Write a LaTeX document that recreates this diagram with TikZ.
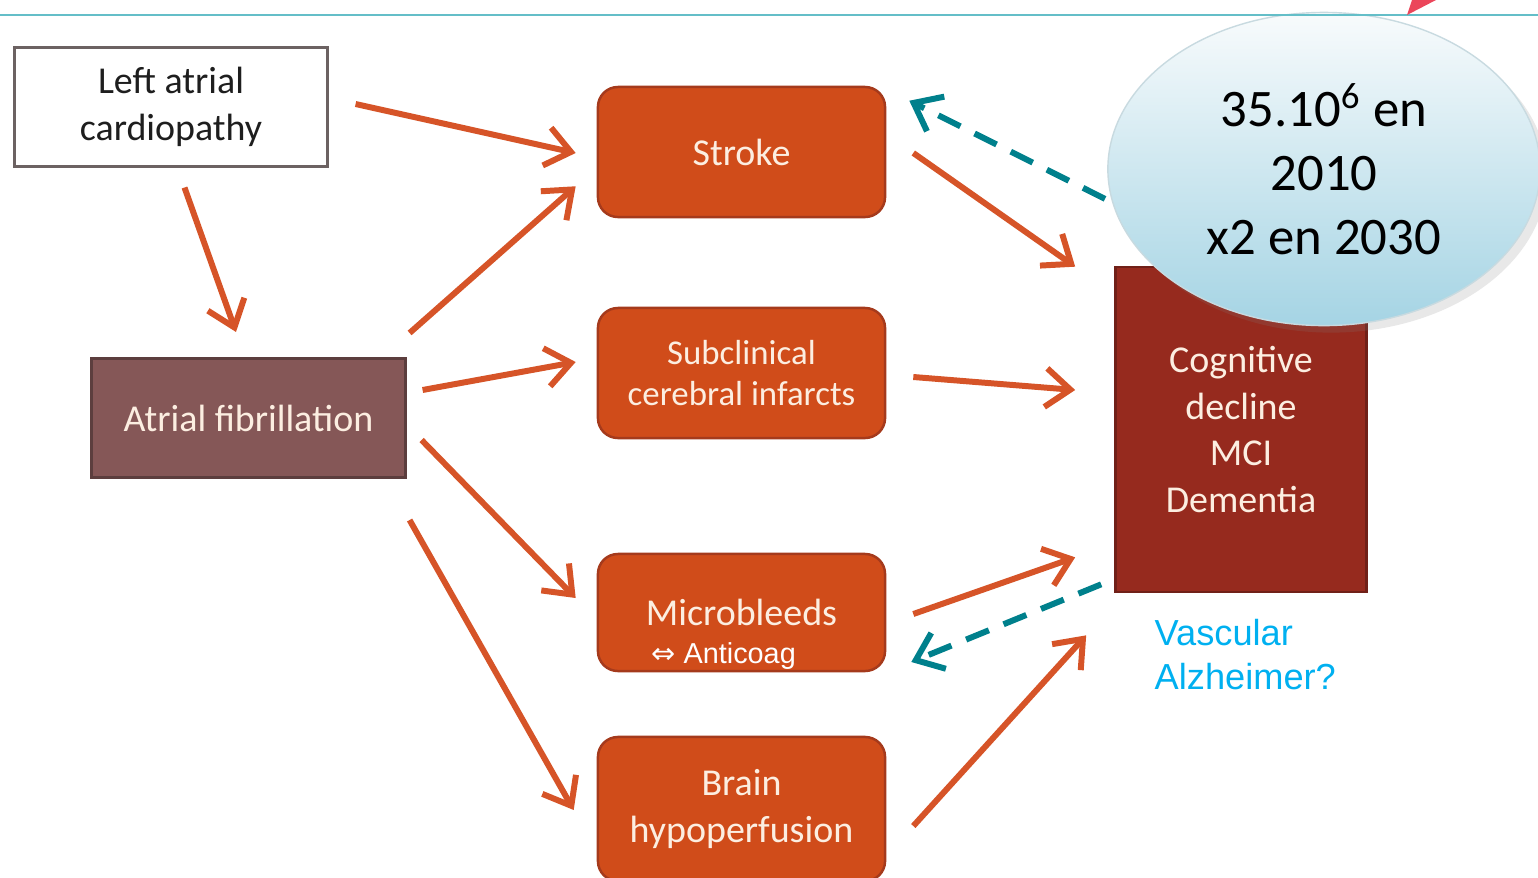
\documentclass[tikz,border=0pt]{standalone}
\usepackage{fontspec}
\setmainfont{Carlito}
\newfontfamily\arialfont{Liberation Sans}
\newfontfamily\symbfont{DejaVu Sans}
\usetikzlibrary{arrows.meta,shapes.geometric,shadows}

\definecolor{boxorange}{RGB}{208,76,26}
\definecolor{boxedge}{RGB}{165,58,28}
\definecolor{arrorange}{RGB}{214,84,40}
\definecolor{afmauve}{RGB}{133,87,87}
\definecolor{afedge}{RGB}{92,62,62}
\definecolor{cogred}{RGB}{150,42,30}
\definecolor{cogedge}{RGB}{112,32,24}
\definecolor{cream}{RGB}{252,238,225}
\definecolor{lacedge}{RGB}{108,98,98}
\definecolor{dashteal}{RGB}{0,128,140}
\definecolor{topline}{RGB}{100,190,200}
\definecolor{pointerred}{RGB}{235,70,90}
\definecolor{vasccyan}{RGB}{0,176,240}
\definecolor{bubtop}{RGB}{248,251,252}
\definecolor{bubmid}{RGB}{205,230,238}
\definecolor{bubbot}{RGB}{165,212,228}
\definecolor{bubedge}{RGB}{200,218,224}

\pgfdeclarelayer{bg}
\pgfsetlayers{bg,main}

\tikzset{
  txt/.style={font=\fontsize{10.8}{13.3}\selectfont, align=center, inner sep=0pt},
  obox/.style={txt, draw=boxedge, fill=boxorange, line width=0.7pt,
    rounded corners=0.2cm, text=cream, minimum width=2.87cm},
  arr/.style={draw=arrorange, line width=1.7pt,
    -{Straight Barb[length=7pt,width=11pt]}},
  darr/.style={draw=dashteal, line width=1.7pt, dash pattern=on 7pt off 4.5pt,
    -{Straight Barb[length=7pt,width=11pt]}},
}

\begin{document}
\begin{tikzpicture}[x=0.01cm,y=-0.01cm]
\useasboundingbox (0,0) rectangle (1538,878);

% causes
\node[txt, draw=lacedge, fill=white, line width=0.85pt, text={rgb,255:red,30;green,30;blue,30},
      minimum width=3.12cm, minimum height=1.18cm] (lac) at (171,107)
      {Left atrial\\cardiopathy};
\node[txt, draw=afedge, fill=afmauve, line width=0.85pt, text=cream,
      minimum width=3.13cm, minimum height=1.19cm] (af) at (248.5,418)
      {Atrial fibrillation};

% intermediate lesions
\node[obox, minimum height=1.30cm] (stroke) at (741.5,152) {Stroke};
\node[obox, minimum height=1.30cm, font=\fontsize{9.9}{11.9}\selectfont] (sub) at (741.5,373)
      {Subclinical\\cerebral infarcts};
\node[obox, minimum height=1.17cm] (micro) at (741.5,612.5) {Microbleeds};
\node[anchor=west, inner sep=0pt, text=white,
      font=\arialfont\fontsize{8.2}{10}\selectfont] (anti) at (651,656)
      {{\symbfont ⇔}\hspace{2.2pt}Anticoag};
\node[obox, minimum height=1.44cm] (brain) at (741.5,809) {Brain\\hypoperfusion};

% outcome
\node[txt, draw=cogedge, fill=cogred, line width=0.7pt, text=cream,
      minimum width=2.51cm, minimum height=3.25cm] (cog) at (1241,429.5)
      {Cognitive\\decline\\MCI\\Dementia};
\node[anchor=west, inner sep=0pt, align=left, text=vasccyan,
      font=\arialfont\fontsize{10.3}{12.5}\selectfont] (vasc) at (1154,655)
      {Vascular\\Alzheimer?};

% prevalence bubble
\node[ellipse, draw=bubedge, line width=0.4pt, top color=bubtop, middle color=bubmid,
      bottom color=bubbot, minimum width=4.32cm, minimum height=3.13cm, inner sep=0pt,
      drop shadow={shadow xshift=2pt, shadow yshift=-2pt, opacity=0.18, fill=gray},
      font=\fontsize{15}{18.1}\selectfont, align=center] (bub) at (1324,169)
      {35.10\textsuperscript{6} en\\2010\\x2 en 2030};

% header rule and pointer
\draw[topline, line width=0.45pt] (0,15) -- (1538,15);
\fill[pointerred] (1407,15) -- (1412,0) -- (1436,0) -- cycle;

% connectors
\begin{pgfonlayer}{bg}
\draw[arr] ([shift={(27,-3)}]lac.east) -- ([shift={(-21,1)}]stroke.west);
\draw[arr] ([shift={(13.5,20)}]lac.south) -- ([shift={(-12.5,-25)}]af.north);
\draw[arr] ([shift={(3,-24)}]af.north east) -- ([shift={(-21,-32)}]stroke.south west);
\draw[arr] ([shift={(16,-28)}]af.east) -- ([shift={(-21,-11)}]sub.west);
\draw[arr] ([shift={(15,22)}]af.east) -- ([shift={(-21,-14.5)}]micro.west);
\draw[arr] ([shift={(3,41)}]af.south east) -- ([shift={(-23,1)}]brain.west);
\draw[arr] ([shift={(27,1)}]stroke.east) -- ([shift={(-39,1)}]cog.north west);
\draw[arr] ([shift={(27,4)}]sub.east) -- ([shift={(-39,-39.5)}]cog.west);
\draw[arr] ([shift={(27,1.5)}]micro.east) -- ([shift={(-39,-36)}]cog.south west);
\draw[arr] ([shift={(27,17)}]brain.east) -- ([shift={(-28,42)}]cog.south west);
\draw[darr] ([shift={(34,48)}]bub.west) -- ([shift={(23,15)}]stroke.north east);
\draw[darr] ([shift={(-13,-9)}]cog.south west) -- ([shift={(25,49.5)}]micro.east);
\end{pgfonlayer}
\end{tikzpicture}
\end{document}
